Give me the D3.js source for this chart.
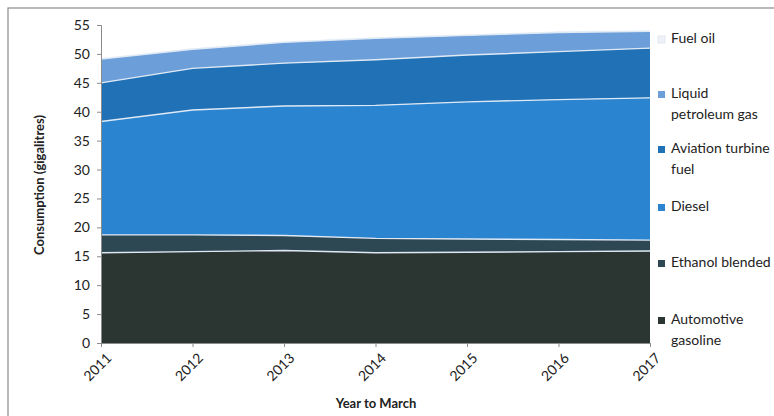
<!DOCTYPE html>
<html>
<head>
<meta charset="utf-8">
<script src="https://cdnjs.cloudflare.com/ajax/libs/d3/7.8.5/d3.min.js"></script>
<style>
  body { margin: 0; background: #fff; }
  svg text { font-family: Lato, "Open Sans", sans-serif; fill: #222; }
</style>
</head>
<body>
<div id="chart"></div>
<script>
// values, gigalitres per year to March
var years = [2011, 2012, 2013, 2014, 2015, 2016, 2017];
var gasoline = [15.6, 15.8, 16.0, 15.6, 15.7, 15.8, 15.9];
var ethanol = [3.1, 2.9, 2.6, 2.5, 2.3, 2.1, 1.9];
var diesel = [19.6, 21.6, 22.4, 23.0, 23.7, 24.2, 24.6];
var aviation = [6.7, 7.2, 7.4, 7.9, 8.1, 8.3, 8.6];
var lpg = [4.1, 3.3, 3.6, 3.7, 3.4, 3.3, 2.9];
var fuelOil = [0.2, 0.2, 0.2, 0.2, 0.2, 0.2, 0.2];
var yTicks = [0, 5, 10, 15, 20, 25, 30, 35, 40, 45, 50, 55];

var keys = ["gasoline", "ethanol", "diesel", "aviation", "lpg", "fuelOil"];
var colors = {
	gasoline: "#2b3532",
	ethanol: "#2e4853",
	diesel: "#2a84d0",
	aviation: "#2071b6",
	lpg: "#6c9fd9",
	fuelOil: "#eef2f8"
};
var legend = [
	{key: "fuelOil", lines: ["Fuel oil"], y: 43},
	{key: "lpg", lines: ["Liquid", "petroleum gas"], y: 98},
	{key: "aviation", lines: ["Aviation turbine", "fuel"], y: 153},
	{key: "diesel", lines: ["Diesel"], y: 211},
	{key: "ethanol", lines: ["Ethanol blended"], y: 267},
	{key: "gasoline", lines: ["Automotive", "gasoline"], y: 324}
];

var rows = years.map(function (y, i) {
	return {year: y, gasoline: gasoline[i], ethanol: ethanol[i], diesel: diesel[i],
		aviation: aviation[i], lpg: lpg[i], fuelOil: fuelOil[i]};
});

var W = 774, H = 416;
var svg = d3.select("#chart").append("svg").attr("width", W).attr("height", H);

// outer frame
svg.append("rect").attr("x", 8).attr("y", 8).attr("width", 770).attr("height", 420)
	.attr("fill", "none").attr("stroke", "#8a8a8a").attr("stroke-width", 1.2);

var x = d3.scaleLinear().domain([2011, 2017]).range([101, 650]);
var y = d3.scaleLinear().domain([0, 55]).range([343, 25]);

var stack = d3.stack().keys(keys);
var series = stack(rows);

var area = d3.area()
	.x(function (d) { return x(d.data.year); })
	.y0(function (d) { return y(d[0]); })
	.y1(function (d) { return y(d[1]); });

var topLine = d3.line()
	.x(function (d) { return x(d.data.year); })
	.y(function (d) { return y(d[1]); });

svg.selectAll("path.layer").data(series).enter().append("path")
	.attr("class", "layer")
	.attr("d", area)
	.attr("fill", function (d) { return colors[d.key]; });

// light edges between layers
svg.selectAll("path.edge").data(series.slice(0, 5)).enter().append("path")
	.attr("class", "edge")
	.attr("d", topLine)
	.attr("fill", "none")
	.attr("stroke", "#dfe9f5")
	.attr("stroke-width", 1.4);

// axes
var yAxis = svg.append("g").attr("transform", "translate(101,0)")
	.call(d3.axisLeft(y).tickValues(yTicks).tickSize(4).tickPadding(7));
var xAxis = svg.append("g").attr("transform", "translate(0,343)")
	.call(d3.axisBottom(x).tickValues(years).tickFormat(d3.format("d")).tickSize(4));

[yAxis, xAxis].forEach(function (g) {
	g.select(".domain").attr("stroke", "#8c8c8c");
	g.selectAll(".tick line").attr("stroke", "#8c8c8c");
	g.selectAll("text").style("font-size", "14px").style("font-family", "Lato, sans-serif").attr("fill", "#222");
});

xAxis.selectAll("text")
	.attr("text-anchor", "end")
	.attr("dx", 0).attr("dy", 0)
	.attr("transform", "translate(6,11) rotate(-45)");

// axis titles
svg.append("text")
	.attr("transform", "translate(44,185) rotate(-90)")
	.attr("text-anchor", "middle")
	.style("font-size", "13px").style("font-weight", "bold")
	.text("Consumption (gigalitres)");

svg.append("text")
	.attr("x", 376).attr("y", 408)
	.attr("text-anchor", "middle")
	.style("font-size", "13px").style("font-weight", "bold")
	.text("Year to March");

// legend
var lg = svg.selectAll("g.leg").data(legend).enter().append("g").attr("class", "leg")
	.attr("transform", function (d) { return "translate(658," + d.y + ")"; });
lg.append("rect").attr("x", 0).attr("y", -7).attr("width", 7).attr("height", 7)
	.attr("fill", function (d) { return colors[d.key]; })
	.attr("stroke", function (d) { return d.key === "fuelOil" ? "#e4e8ee" : "none"; });
lg.each(function (d) {
	var t = d3.select(this).append("text").attr("x", 13).attr("y", 0)
		.style("font-size", "14px");
	d.lines.forEach(function (s, i) {
		t.append("tspan").attr("x", 13).attr("dy", i === 0 ? 0 : 21).text(s);
	});
});
</script>
</body>
</html>
